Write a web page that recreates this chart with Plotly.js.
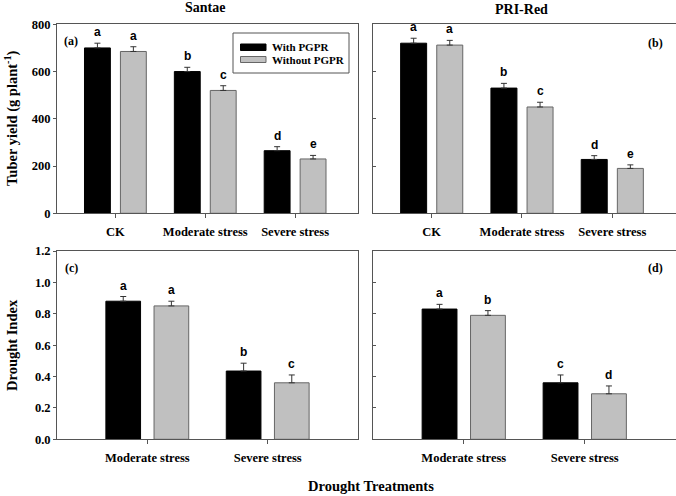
<!DOCTYPE html>
<html>
<head>
<meta charset="utf-8">
<script src="https://cdn.plot.ly/plotly-3.0.1.min.js"></script>
<style>html,body{margin:0;padding:0;background:#fff;}#chart{width:676px;height:496px;}</style>
</head>
<body>
<div id="chart"></div>
<script>
// ---- data ----
var categoriesTop = ['CK', 'Moderate stress', 'Severe stress'];
var categoriesBottom = ['Moderate stress', 'Severe stress'];
var seriesNames = ['With PGPR', 'Without PGPR'];

// Tuber yield (g plant-1) - Santae
var santaeYieldWith = [700, 600, 265];
var santaeYieldWithErr = [20, 18, 17];
var santaeYieldWithout = [685, 520, 230];
var santaeYieldWithoutErr = [20, 20, 15];
var santaeYieldWithLetters = ['a', 'b', 'd'];
var santaeYieldWithoutLetters = ['a', 'c', 'e'];

// Tuber yield (g plant-1) - PRI-Red
var priYieldWith = [720, 530, 228];
var priYieldWithErr = [21, 20, 16];
var priYieldWithout = [712, 450, 190];
var priYieldWithoutErr = [20, 20, 15];
var priYieldWithLetters = ['a', 'b', 'd'];
var priYieldWithoutLetters = ['a', 'c', 'e'];

// Drought index - Santae
var santaeDIWith = [0.88, 0.435];
var santaeDIWithErr = [0.03, 0.05];
var santaeDIWithout = [0.85, 0.36];
var santaeDIWithoutErr = [0.03, 0.05];
var santaeDIWithLetters = ['a', 'b'];
var santaeDIWithoutLetters = ['a', 'c'];

// Drought index - PRI-Red
var priDIWith = [0.83, 0.36];
var priDIWithErr = [0.03, 0.05];
var priDIWithout = [0.79, 0.29];
var priDIWithoutErr = [0.03, 0.05];
var priDIWithLetters = ['a', 'c'];
var priDIWithoutLetters = ['b', 'd'];

var yieldTicks = [0, 200, 400, 600, 800];
var diTicks = [0.0, 0.2, 0.4, 0.6, 0.8, 1.0, 1.2];

// ---- styles ----
var serif = 'Liberation Serif, Times New Roman, serif';
var sans = 'Liberation Sans, Arial, sans-serif';
var blackFill = '#000000';
var grayFill = '#c0c0c0';
var frame = '#555555';

function zeros(n) { var a = []; for (var i = 0; i < n; i++) a.push(0); return a; }

function barTrace(cats, vals, errs, isWith, xa, ya) {
  return {
    type: 'bar', x: cats, y: vals, xaxis: xa, yaxis: ya,
    name: isWith ? seriesNames[0] : seriesNames[1],
    showlegend: false,
    marker: { color: isWith ? blackFill : grayFill, line: { color: isWith ? '#000' : '#666', width: 1 } },
    error_y: { type: 'data', symmetric: false, array: errs, arrayminus: zeros(errs.length), color: '#333', thickness: 1, width: 3 },
    hoverinfo: 'y'
  };
}

var traces = [
  barTrace(categoriesTop, santaeYieldWith, santaeYieldWithErr, true, 'x', 'y'),
  barTrace(categoriesTop, santaeYieldWithout, santaeYieldWithoutErr, false, 'x', 'y'),
  barTrace(categoriesTop, priYieldWith, priYieldWithErr, true, 'x2', 'y2'),
  barTrace(categoriesTop, priYieldWithout, priYieldWithoutErr, false, 'x2', 'y2'),
  barTrace(categoriesBottom, santaeDIWith, santaeDIWithErr, true, 'x3', 'y3'),
  barTrace(categoriesBottom, santaeDIWithout, santaeDIWithoutErr, false, 'x3', 'y3'),
  barTrace(categoriesBottom, priDIWith, priDIWithErr, true, 'x4', 'y4'),
  barTrace(categoriesBottom, priDIWithout, priDIWithoutErr, false, 'x4', 'y4')
];

var annotations = [];
function addLetters(vals, errs, letters, offset, xr, yr) {
  for (var i = 0; i < vals.length; i++) {
    annotations.push({
      x: i + offset, y: vals[i] + errs[i], xref: xr, yref: yr,
      text: letters[i], showarrow: false, yanchor: 'bottom', yshift: 2,
      font: { family: sans, size: 12, color: '#000', weight: 'bold' }
    });
  }
}
addLetters(santaeYieldWith, santaeYieldWithErr, santaeYieldWithLetters, -0.2, 'x', 'y');
addLetters(santaeYieldWithout, santaeYieldWithoutErr, santaeYieldWithoutLetters, 0.2, 'x', 'y');
addLetters(priYieldWith, priYieldWithErr, priYieldWithLetters, -0.2, 'x2', 'y2');
addLetters(priYieldWithout, priYieldWithoutErr, priYieldWithoutLetters, 0.2, 'x2', 'y2');
addLetters(santaeDIWith, santaeDIWithErr, santaeDIWithLetters, -0.2, 'x3', 'y3');
addLetters(santaeDIWithout, santaeDIWithoutErr, santaeDIWithoutLetters, 0.2, 'x3', 'y3');
addLetters(priDIWith, priDIWithErr, priDIWithLetters, -0.2, 'x4', 'y4');
addLetters(priDIWithout, priDIWithoutErr, priDIWithoutLetters, 0.2, 'x4', 'y4');

var W = 676, H = 496;
function px(x) { return x / W; }
function py(y) { return 1 - y / H; }
function textAnn(text, x, y, size, opts) {
  var a = { text: text, x: px(x), y: py(y), xref: 'paper', yref: 'paper', showarrow: false,
    xanchor: 'center', yanchor: 'middle',
    font: { family: serif, size: size, color: '#000', weight: 'bold' } };
  for (var k in (opts || {})) a[k] = opts[k];
  return a;
}
annotations.push(textAnn('Santae', 205, 8, 14));
annotations.push(textAnn('PRI-Red', 521, 9, 14));
annotations.push(textAnn('(a)', 71, 41, 12));
annotations.push(textAnn('(b)', 655, 43, 12));
annotations.push(textAnn('(c)', 71, 268, 12));
annotations.push(textAnn('(d)', 655, 268, 12));
annotations.push(textAnn('Tuber yield (g plant<sup>-1</sup>)', 11, 118, 14.5, { textangle: -90 }));
annotations.push(textAnn('Drought Index', 12, 345, 14.5, { textangle: -90 }));
annotations.push(textAnn('Drought Treatments', 371, 486, 14.5));
annotations.push(textAnn(seriesNames[0], 270, 47, 11, { xanchor: 'left' }));
annotations.push(textAnn(seriesNames[1], 270, 59.5, 11, { xanchor: 'left' }));

var shapes = [
  { type: 'rect', xref: 'paper', yref: 'paper', x0: px(233), x1: px(349), y0: py(33), y1: py(73), line: { color: frame, width: 1 }, fillcolor: 'rgba(0,0,0,0)' },
  { type: 'rect', xref: 'paper', yref: 'paper', x0: px(240.5), x1: px(266), y0: py(44), y1: py(50.5), line: { color: '#000', width: 1 }, fillcolor: blackFill },
  { type: 'rect', xref: 'paper', yref: 'paper', x0: px(240.5), x1: px(266), y0: py(56.5), y1: py(62.5), line: { color: '#666', width: 1 }, fillcolor: grayFill }
];

function xAxis(domain, anchor, range) {
  return { domain: domain, anchor: anchor, type: 'category', range: range,
    showline: true, mirror: true, linecolor: frame, linewidth: 1,
    ticks: 'outside', ticklen: 4, tickcolor: frame, showgrid: false, zeroline: false,
    ticklabelstandoff: 3,
    tickfont: { family: serif, size: 12.5, color: '#000', weight: 'bold' }, fixedrange: true };
}
function yAxis(domain, anchor, range, ticks, labels, fmt) {
  return { domain: domain, anchor: anchor, range: range,
    tickmode: 'array', tickvals: ticks, tickformat: fmt,
    showline: true, mirror: true, linecolor: frame, linewidth: 1,
    ticks: labels ? 'outside' : 'inside', ticklen: 3, tickcolor: frame,
    showticklabels: labels, showgrid: false, zeroline: false,
    tickfont: { family: serif, size: 12.5, color: '#000', weight: 'bold' }, fixedrange: true };
}

var xL = [px(57), px(358)], xR = [px(373), px(675.5)];
var yT = [py(213.3), py(24.3)], yB = [py(439.3), py(251)];

var layout = {
  width: W, height: H,
  margin: { l: 0, r: 0, t: 0, b: 0 },
  paper_bgcolor: '#fff', plot_bgcolor: '#fff',
  barmode: 'group', bargap: 0.2, bargroupgap: 0.28,
  showlegend: false,
  xaxis: xAxis(xL, 'y', [-0.65, 2.7]),
  xaxis2: xAxis(xR, 'y2', [-0.65, 2.7]),
  xaxis3: xAxis(xL, 'y3', [-0.75, 1.75]),
  xaxis4: xAxis(xR, 'y4', [-0.75, 1.75]),
  yaxis: yAxis(yT, 'x', [0, 800], yieldTicks, true, 'd'),
  yaxis2: yAxis(yT, 'x2', [0, 800], yieldTicks, false, 'd'),
  yaxis3: yAxis(yB, 'x3', [0, 1.2], diTicks, true, '.1f'),
  yaxis4: yAxis(yB, 'x4', [0, 1.2], diTicks, false, '.1f'),
  annotations: annotations,
  shapes: shapes
};

Plotly.newPlot('chart', traces, layout, { displayModeBar: false, staticPlot: true });
</script>
</body>
</html>
